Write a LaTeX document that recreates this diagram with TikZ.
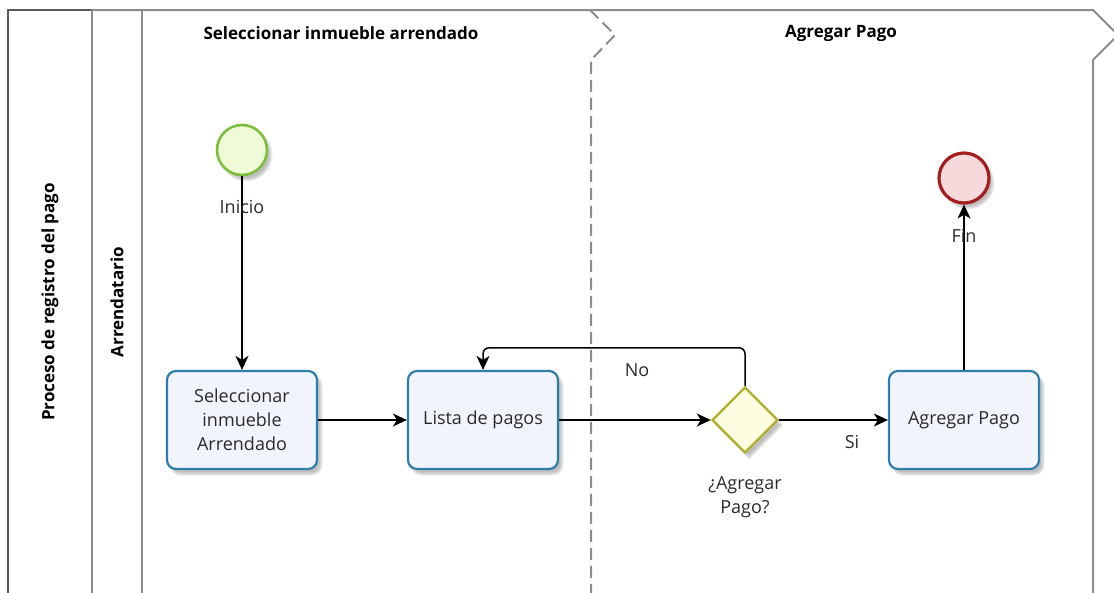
\documentclass[tikz,border=0pt]{standalone}
\usepackage{fontspec}
\setmainfont{Open Sans}
\usetikzlibrary{shapes.geometric,arrows.meta,shadows.blur}

\definecolor{laneline}{HTML}{8C8C8C}
\definecolor{poolline}{HTML}{5A5A5A}
\definecolor{taskline}{HTML}{2E7EAB}
\definecolor{taskfill}{HTML}{F1F4FC}
\definecolor{startline}{HTML}{7DBF3C}
\definecolor{startfill}{HTML}{F1FAD8}
\definecolor{endline}{HTML}{A41E1E}
\definecolor{endfill}{HTML}{F6DADB}
\definecolor{gwline}{HTML}{AFAF2A}
\definecolor{gwfill}{HTML}{FDFDE1}
\definecolor{labeltext}{HTML}{2A2A2A}

\tikzset{
  base/.style={font=\fontsize{18}{24}\selectfont, text=labeltext},
  softshadow/.style={blur shadow={shadow xshift=4pt, shadow yshift=-5pt, shadow blur steps=6, shadow opacity=25}},
  task/.style={base, draw=taskline, fill=taskfill, line width=2.2pt, rounded corners=9pt,
    minimum width=150pt, minimum height=98pt, align=center, inner sep=4pt, softshadow},
  startev/.style={circle, draw=startline, fill=startfill, line width=2.6pt, minimum size=50pt, inner sep=0pt, softshadow},
  endev/.style={circle, draw=endline, fill=endfill, line width=3.2pt, minimum size=50pt, inner sep=0pt, softshadow},
  gateway/.style={diamond, aspect=1, draw=gwline, fill=gwfill, line width=2.4pt, minimum size=66pt, inner sep=0pt, softshadow},
  flow/.style={draw=black, line width=1.5pt, -{Stealth[length=14pt, width=13pt, inset=4pt]}},
  lbl/.style={base, align=center},
  header/.style={font=\bfseries\fontsize{17}{20}\selectfont, text=black},
  lanebar/.style={draw=laneline, line width=2pt},
}

\begin{document}
\begin{tikzpicture}[x=1pt, y=-1pt]
\useasboundingbox (0,0) rectangle (1114,592);
\clip (0,0) rectangle (1114,592);

% pool and lane frame
\draw[draw=poolline, line width=2.2pt] (8,600) -- (8,10) -- (92,10);
\draw[lanebar] (92,10) -- (1093,10) -- (1118,35) -- (1093,60) -- (1093,600);
\draw[lanebar] (92,10) -- (92,600);
\draw[lanebar] (142,10) -- (142,600);

% milestone separator
\draw[draw=laneline, line width=2pt, dash pattern=on 12pt off 6pt]
  (590,10) -- (615,35) -- (591,60) -- (591,600);

% headers
\node[header] (hdrA) at (341,33) {Seleccionar inmueble arrendado};
\node[header] (hdrB) at (841,33) {Agregar Pago};
\node[header, rotate=90] (pool) at (50,302) {Proceso de registro del pago};
\node[header, rotate=90] (lane) at (117,302) {Arrendatario};

% flow elements
\node[startev] (start) at (242,150) {};
\node[endev] (end) at (964,178) {};
\node[task] (t1) at (242,420) {Seleccionar\\inmueble\\Arrendado};
\node[task] (t2) at (483,420) {Lista de pagos};
\node[gateway] (gw) at (745,420) {};
\node[task] (t3) at (964,420) {Agregar Pago};

% sequence flows
\draw[flow] (start) -- (t1);
\draw[flow] (t1) -- (t2);
\draw[flow] (t2) -- (gw);
\draw[flow] (gw) -- (t3);
\draw[flow, rounded corners=6pt] (gw.north) -- ++(0,-38) -| (t2.north);
\draw[flow] (t3) -- (end);

% labels
\node[lbl] (lstart) at (242,207) {Inicio};
\node[lbl] (lend) at (964,236) {Fin};
\node[lbl] (lgw) at (745,497) {¿Agregar\\Pago?};
\node[lbl] (lno) at (637,370) {No};
\node[lbl] (lsi) at (852,442) {Si};
\end{tikzpicture}
\end{document}
